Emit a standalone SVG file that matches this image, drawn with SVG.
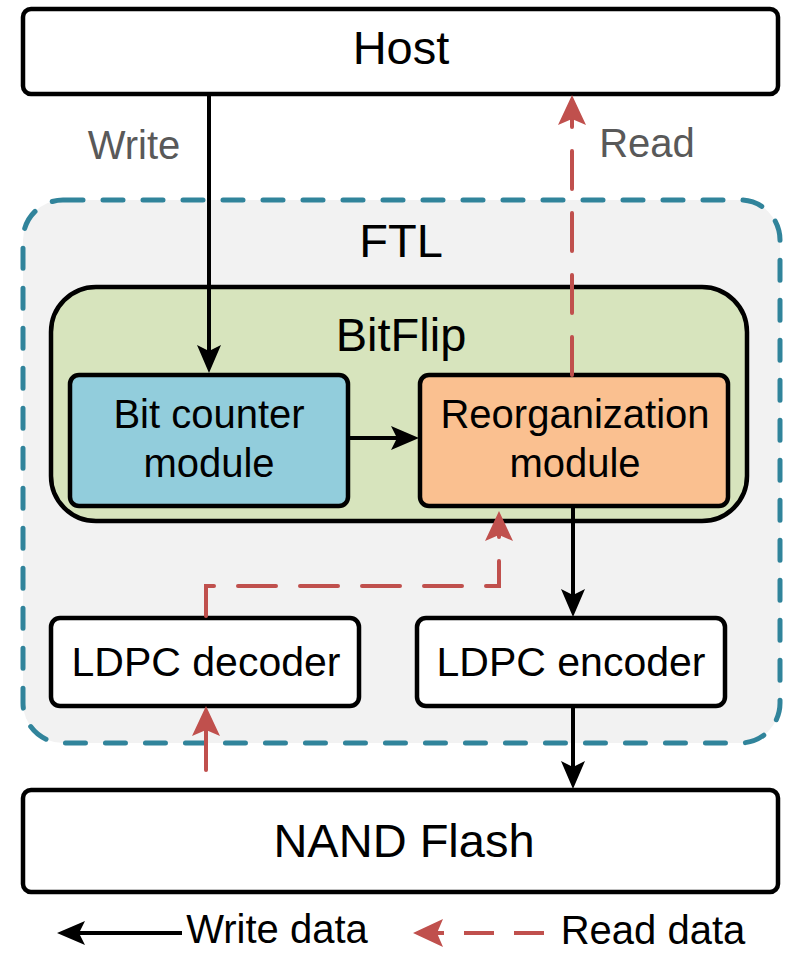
<svg xmlns="http://www.w3.org/2000/svg" width="787" height="953" viewBox="0 0 787 953">
<style>
text{font-family:"Liberation Sans",Arial,sans-serif;fill:#000;text-anchor:middle}
.box{stroke:#000;stroke-width:4.5}
.lbl{fill:#595959}
.wl{fill:none;stroke:#000;stroke-width:4}
.rl{fill:none;stroke:#c0504d;stroke-width:4;stroke-dasharray:38 24;stroke-linecap:round}
</style>
<defs>
<marker id="ab" markerUnits="userSpaceOnUse" viewBox="0 0 28 24" markerWidth="28" markerHeight="24" refX="6" refY="12" orient="auto"><path d="M0,0 L28,12 L0,24 L6,12 Z" fill="#000"/></marker>
<marker id="ar" markerUnits="userSpaceOnUse" viewBox="0 0 30 28" markerWidth="30" markerHeight="28" refX="6" refY="14" orient="auto"><path d="M0,0 L30,14 L0,28 L6,14 Z" fill="#c0504d"/></marker>
</defs>
<rect width="787" height="953" fill="#fff"/>
<g id="host"><rect class="box" x="23" y="9" width="755" height="85" rx="8" fill="#fff"/><text x="401" y="64" font-size="47">Host</text></g>
<g id="ftl"><rect x="23" y="200" width="757" height="543" rx="40" fill="#f2f2f2" stroke="#31849b" stroke-width="5" stroke-dasharray="20 20" stroke-linecap="round"/><text x="401" y="257" font-size="47">FTL</text></g>
<g id="bitflip"><rect class="box" x="51" y="287" width="696" height="234" rx="45" fill="#d7e4bd"/><text x="401" y="351" font-size="47">BitFlip</text></g>
<g id="bitcounter"><rect class="box" x="70" y="375" width="278" height="131" rx="9" fill="#92cddc"/><text x="209" y="428" font-size="40">Bit counter</text><text x="209" y="477" font-size="40">module</text></g>
<g id="reorg"><rect class="box" x="420" y="375" width="308" height="131" rx="9" fill="#fac090"/><text x="575" y="428" font-size="40">Reorganization</text><text x="575" y="477" font-size="40">module</text></g>
<g id="decoder"><rect class="box" x="51" y="618" width="308" height="88" rx="9" fill="#fff"/><text x="206" y="676" font-size="41">LDPC decoder</text></g>
<g id="encoder"><rect class="box" x="417" y="618" width="308" height="88" rx="9" fill="#fff"/><text x="571" y="676" font-size="41">LDPC encoder</text></g>
<g id="nand"><rect class="box" x="23" y="790" width="755" height="102" rx="8" fill="#fff"/><text x="404" y="857" font-size="47">NAND Flash</text></g>
<g id="connectors">
<path class="wl" d="M209,94 V351" marker-end="url(#ab)"/>
<path class="wl" d="M348,438 H397" marker-end="url(#ab)"/>
<path class="wl" d="M573,506 V595" marker-end="url(#ab)"/>
<path class="wl" d="M573,706 V767" marker-end="url(#ab)"/>
<path class="rl" d="M572,375 V119" marker-end="url(#ar)"/>
<path class="rl" d="M206,616 V586 H499 V535" marker-end="url(#ar)"/>
<path d="M206,770 V730" fill="none" stroke="#c0504d" stroke-width="4" stroke-linecap="round" marker-end="url(#ar)"/>
<text class="lbl" x="134" y="159" font-size="40">Write</text>
<text class="lbl" x="647" y="157" font-size="40">Read</text>
</g>
<g id="legend">
<path class="wl" d="M182,933 H79" marker-end="url(#ab)"/>
<text x="277" y="943" font-size="40">Write data</text>
<path d="M544,933 H437" fill="none" stroke="#c0504d" stroke-width="4" stroke-dasharray="30 20" marker-end="url(#ar)"/>
<text x="653" y="944" font-size="40">Read data</text>
</g>
</svg>
